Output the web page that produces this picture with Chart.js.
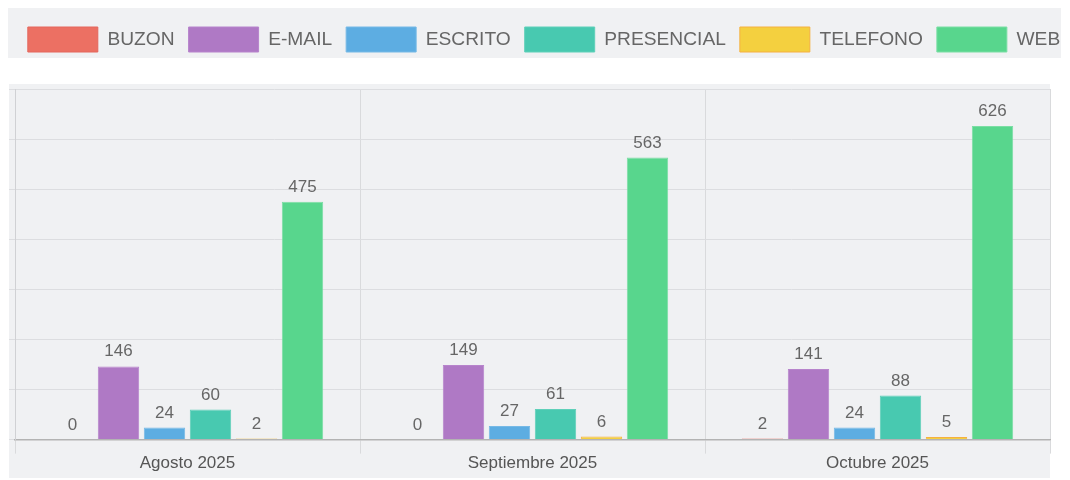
<!DOCTYPE html>
<html>
<head>
<meta charset="utf-8">
<script src="https://cdn.jsdelivr.net/npm/chart.js@4"></script>
<style>
  html, body { margin: 0; padding: 0; background: #fff; }
  #wrap { width: 1070px; height: 480px; }
</style>
</head>
<body>
<div id="wrap"><canvas id="chart" width="1070" height="480"></canvas></div>
<script>
const months = ['Agosto 2025', 'Septiembre 2025', 'Octubre 2025'];

const buzon = [0, 0, 2];
const email = [146, 149, 141];
const escrito = [24, 27, 24];
const presencial = [60, 61, 88];
const telefono = [2, 6, 5];
const web = [475, 563, 626];

const yTicks = [0, 100, 200, 300, 400, 500, 600, 700];

const FONT = "'Liberation Sans', Arial, Helvetica, sans-serif";
const BAND = '#f0f1f3';

// gray panels behind the legend and the plot
const panels = {
  id: 'panels',
  beforeDraw(chart) {
    const c = chart.ctx;
    c.save();
    c.fillStyle = BAND;
    c.fillRect(8, 8, 1053, 50);
    c.fillRect(9, 84, 1041, 394);
    c.restore();
  }
};

// legend uses the full canvas width, with extra room below it
const legendRoom = {
  id: 'legendRoom',
  beforeInit(chart) {
    const lg = chart.legend;
    const fit = lg.fit;
    lg.fit = function () {
      this.maxWidth = chart.width;
      fit.bind(lg)();
      this.height += 27;
    };
  },
  afterLayout(chart) {
    chart.legend.left = 5;
    chart.legend.right = chart.width + 13;
  }
};

// numbers on top of the bars
const valueLabels = {
  id: 'valueLabels',
  afterDatasetsDraw(chart) {
    const c = chart.ctx;
    c.save();
    c.font = '17px ' + FONT;
    c.fillStyle = '#666';
    c.textAlign = 'center';
    c.textBaseline = 'alphabetic';
    chart.data.datasets.forEach((ds, i) => {
      chart.getDatasetMeta(i).data.forEach((bar, j) => {
        c.fillText(String(ds.data[j]), bar.x, bar.y - 10);
      });
    });
    c.restore();
  }
};

new Chart(document.getElementById('chart'), {
  type: 'bar',
  data: {
    labels: months,
    datasets: [
      { label: 'BUZON', data: buzon, backgroundColor: '#ec7063', borderColor: '#e4675d', borderWidth: 1 },
      { label: 'E-MAIL', data: email, backgroundColor: '#af79c5', borderColor: '#b784cc', borderWidth: 1 },
      { label: 'ESCRITO', data: escrito, backgroundColor: '#5dade2', borderColor: '#76b9e6', borderWidth: 1 },
      { label: 'PRESENCIAL', data: presencial, backgroundColor: '#48c9b0', borderColor: '#5fd0b9', borderWidth: 1 },
      { label: 'TELEFONO', data: telefono, backgroundColor: '#f4d03f', borderColor: '#f5b041', borderWidth: 1 },
      { label: 'WEB', data: web, backgroundColor: '#58d68d', borderColor: '#7bdea4', borderWidth: 1 }
    ]
  },
  options: {
    responsive: false,
    animation: false,
    layout: { padding: { top: 13, left: 9, right: 20, bottom: 6 } },
    plugins: {
      legend: {
        position: 'top',
        labels: {
          boxWidth: 70,
          boxHeight: 25,
          padding: 14,
          color: '#666',
          font: { size: 19.2, family: FONT }
        }
      },
      tooltip: { enabled: false }
    },
    scales: {
      x: {
        grid: {
          color: (ctx) => (ctx.index >= months.length ? 'rgba(0,0,0,0)' : '#d9dadc'),
          tickLength: 14
        },
        border: { color: '#b3b3b3', width: 1.5 },
        ticks: { color: '#555', padding: 0, font: { size: 17, family: FONT } }
      },
      y: {
        min: yTicks[0],
        max: yTicks[yTicks.length - 1],
        afterBuildTicks(axis) {
          axis.ticks = yTicks.map(v => ({ value: v }));
        },
        grid: { color: '#dcdde0', tickLength: 6 },
        border: { color: '#d0d1d4' },
        ticks: { display: false }
      }
    }
  },
  plugins: [panels, legendRoom, valueLabels]
});
</script>
</body>
</html>
